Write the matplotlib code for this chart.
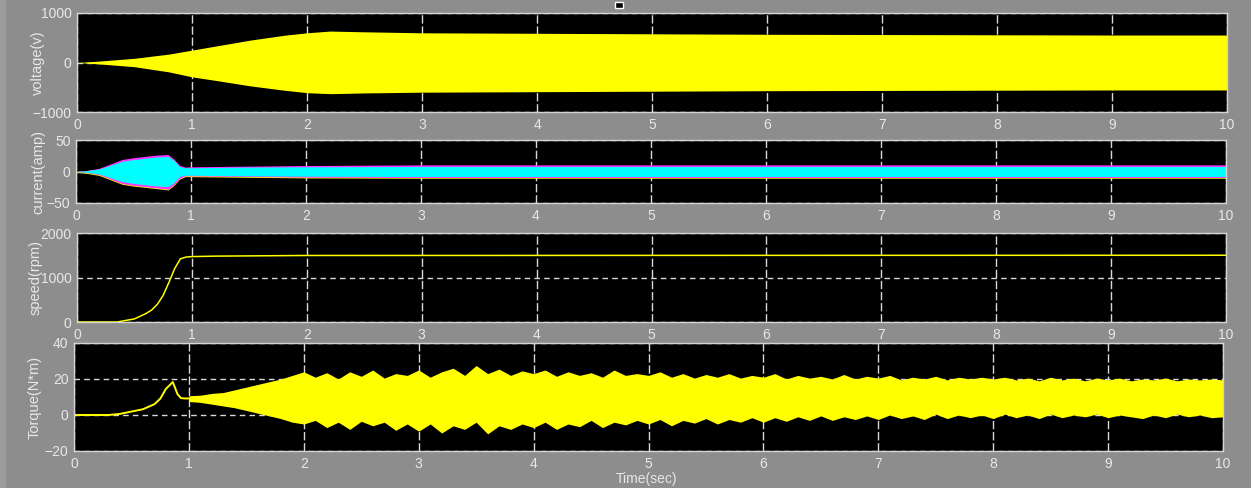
import matplotlib
matplotlib.use('Agg')
import matplotlib.pyplot as plt
import numpy as np
from matplotlib.patches import Rectangle

# ---------------- data ----------------
time_ticks = [0, 1, 2, 3, 4, 5, 6, 7, 8, 9, 10]

# voltage envelope (V)
volt_t = [0, 0.2, 0.5, 0.8, 1.0, 1.2, 1.5, 1.8, 2.0, 2.2, 2.5, 3, 4, 5, 6, 7, 8, 9, 10]
volt_up = [0, 30, 85, 170, 250, 330, 450, 550, 600, 635, 620, 600, 590, 580, 570, 565, 560, 555, 555]
volt_lo = [0, -30, -85, -190, -290, -360, -470, -560, -610, -630, -615, -600, -590, -580, -570, -565, -560, -555, -555]

# current envelopes (A)
cur_t = [0, 0.1, 0.2, 0.3, 0.4, 0.5, 0.6, 0.7, 0.8, 0.85, 0.9, 0.95, 1.0, 1.5, 2, 3, 4, 5, 6, 7, 8, 9, 10]
cur_mag_up = [0, 2, 5, 12, 19, 22, 24, 26, 27, 20, 10, 7, 7.5, 8.5, 9.5, 10.5, 10.5, 10.5, 10.5, 10.5, 10.5, 10.5, 10.5]
cur_mag_lo = [0, -2, -5, -12, -19, -22, -24, -26, -28, -21, -11, -7, -7, -8, -9, -9.5, -9.5, -9.5, -9.5, -9.5, -9.5, -9.5, -9.5]
cur_cyan_up = [0, 1.5, 4, 10, 16, 19, 21, 23, 24, 18, 8, 6, 6, 7, 7.5, 8, 8, 8, 8, 8, 8, 8, 8]
cur_cyan_lo = [0, -1.5, -4, -10, -16, -19, -21, -23, -24, -18, -8, -6, -6, -7, -7.5, -8, -8, -8, -8, -8, -8, -8, -8]

# speed (rpm)
speed_t = [0, 0.35, 0.5, 0.6, 0.65, 0.7, 0.75, 0.8, 0.85, 0.9, 0.95, 1.0, 1.2, 2, 10]
speed_rpm = [0, 0, 70, 190, 270, 400, 600, 890, 1200, 1420, 1460, 1470, 1480, 1495, 1500]

# torque (N*m): start-up transient
torque_t0 = [0, 0.3, 0.4, 0.5, 0.6, 0.7, 0.75, 0.8, 0.86, 0.9, 0.93, 0.96, 1.0]
torque_v0 = [0, 0, 0.6, 1.9, 3.2, 6, 9, 14.5, 18.3, 11.7, 9.4, 9.2, 9.2]
# torque oscillation band, t = 1.0 ... 10.0 step 0.1
torque_band_t = [round(1.0 + 0.1 * i, 1) for i in range(91)]
torque_up = [10.7, 11, 12, 12.5, 14, 15.5, 17, 18.5, 20, 22,
             24, 21, 23.5, 20, 24, 21.5, 25, 20.5, 23, 22,
             25, 21, 24, 26, 22, 27.5, 23, 25.5, 22, 24.5,
             23, 25, 21.5, 24, 22, 23.5, 21, 25, 22, 23,
             22, 24, 21, 23, 20.5, 22.5, 21, 23, 20.5, 22,
             21, 23, 20, 22, 20.5, 21.5, 20, 22.5, 20, 21.5,
             20.5, 22, 19.5, 21, 20, 21.5, 19.5, 21, 20, 21,
             20, 21, 19.5, 20.5, 19, 21, 19.5, 20.5, 19, 20.5,
             19.5, 20.5, 19, 20, 19.5, 20.5, 19, 20, 19.5, 20, 19.5]
torque_lo = [7.5, 7, 6, 5, 4, 2.5, 1, -0.5, -2, -4,
             -5, -3, -7, -4, -8, -3.5, -6, -4, -8.5, -5,
             -9, -5, -10, -6, -8, -4, -10.5, -6, -8, -5,
             -7, -4, -8, -5, -6.5, -3, -7, -4, -5.5, -3,
             -5, -2.5, -6, -3, -4.5, -2, -5, -2.5, -4, -1.5,
             -4, -1.5, -3.5, -1, -3, -0.5, -3, -1, -2.5, -0.5,
             -2.5, 0, -2, -0.5, -2.5, 0.5, -2, 0, -1.5, 0,
             -2, 0.5, -1.5, 0, -2, 0.5, -1.5, 0, -1, 0.5,
             -1.5, 0, -1, -2, 0, -1.5, 0.5, -1, 0, -1.5, -1]

# ---------------- styling ----------------
W, H = 1251, 488
BG = '#8d8d8d'
TXT = '#e8e8e8'
YEL = '#ffff00'
plt.rcParams['font.family'] = ['Liberation Sans', 'DejaVu Sans']
plt.rcParams['font.size'] = 10

fig = plt.figure(figsize=(W / 100, H / 100), dpi=100, facecolor=BG)
fig.patches.append(Rectangle((0, 0), 6 / W, 1, transform=fig.transFigure,
                             facecolor='#9c9c9c', edgecolor='none', zorder=0))
fig.patches.append(Rectangle((615 / W, 1 - 8 / H), 8 / W, 6 / H, transform=fig.transFigure,
                             facecolor='black', edgecolor='white', linewidth=1, zorder=5))


def make_ax(l, r, t, b, ylim, yticks, ylabel, label_x):
    ax = fig.add_axes([l / W, 1 - b / H, (r - l) / W, (b - t) / H])
    ax.set_facecolor('black')
    ax.set_xlim(0, 10)
    ax.set_ylim(*ylim)
    ax.set_xticks(time_ticks)
    ax.set_yticks(yticks)
    ax.tick_params(length=0, colors=TXT, labelsize=10, pad=4)
    for s in ax.spines.values():
        s.set_color('#d4d4d4')
        s.set_linewidth(1)
    ax.set_axisbelow(True)
    ax.xaxis.grid(True, color='#d8d8d8', linestyle=(0, (6, 2)), linewidth=1)
    ax.yaxis.grid(True, color='#d8d8d8', linestyle=(0, (4, 3)), linewidth=1)
    fig.text(label_x / W, 1 - (t + b) / 2 / H, ylabel, rotation=90, ha='center',
             va='center', color=TXT, fontsize=10.5)
    return ax


ax1 = make_ax(77, 1227, 13, 112, (-1000, 1000), [-1000, 0, 1000], 'voltage(v)', 38)
ax1.fill_between(volt_t, volt_lo, volt_up, color=YEL, lw=0)

ax2 = make_ax(76, 1226, 140, 203, (-50, 50), [-50, 0, 50], 'current(amp)', 38)
ax2.fill_between(cur_t, np.array(cur_mag_lo) - 1.2, np.array(cur_cyan_up), color=YEL, lw=0)
ax2.fill_between(cur_t, cur_mag_lo, cur_mag_up, color='#ff33ff', lw=0)
ax2.fill_between(cur_t, cur_cyan_lo, cur_cyan_up, color='#00ffff', lw=0)

ax3 = make_ax(77, 1226, 233, 322, (0, 2000), [0, 1000, 2000], 'speed(rpm)', 36)
ax3.plot(speed_t, speed_rpm, color=YEL, lw=1.1)

ax4 = make_ax(74, 1223, 343, 451, (-20, 40), [-20, 0, 20, 40], 'Torque(N*m)', 35)
ax4.plot(torque_t0, torque_v0, color=YEL, lw=1.4)
ax4.fill_between(torque_band_t, torque_lo, torque_up, color=YEL, lw=0)

fig.text(647 / W, 2 / H, 'Time(sec)', ha='center', va='bottom', color=TXT, fontsize=10)

fig.savefig('out.png', dpi=100, facecolor=BG)
